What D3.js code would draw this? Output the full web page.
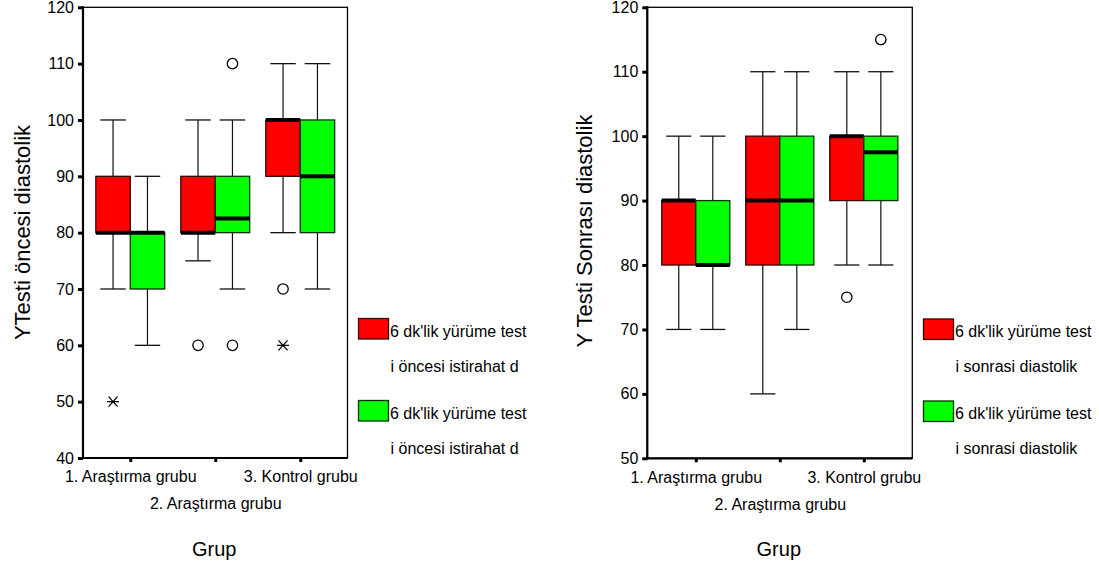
<!DOCTYPE html>
<html>
<head>
<meta charset="utf-8">
<script src="https://cdn.jsdelivr.net/npm/d3@7"></script>
<style>
  html, body { margin: 0; padding: 0; background: #fff; }
  svg { display: block; }
  text { font-family: "Liberation Sans", Arial, sans-serif; fill: #000; }
</style>
</head>
<body>
<svg id="chart" width="1099" height="575"></svg>
<script>
// ---------------- DATA ----------------
const groups = ["1. Araştırma grubu", "2. Araştırma grubu", "3. Kontrol grubu"];
const xTitle = "Grup";

// Left panel: 6 dk'lik yürüme testi öncesi (five-number summaries: min, q1, median, q3, max)
const leftTitle = "YTesti öncesi diastolik";
const leftTicks = [40, 50, 60, 70, 80, 90, 100, 110, 120];
const preRedBox = [[70, 80, 80, 90, 100], [75, 80, 80, 90, 100], [80, 90, 100, 100, 110]];
const preRedOutliers = [[], [60], [70]];
const preRedExtremes = [[50], [], [60]];
const preGreenBox = [[60, 70, 80, 80, 90], [70, 80, 82.5, 90, 100], [70, 80, 90, 100, 110]];
const preGreenOutliers = [[], [60, 110], []];
const preGreenExtremes = [[], [], []];
const leftLegend = ["6 dk'lik yürüme test", "i öncesi istirahat d", "6 dk'lik yürüme test", "i öncesi istirahat d"];

// Right panel: 6 dk'lik yürüme testi sonrası
const rightTitle = "Y Testi Sonrası diastolik";
const rightTicks = [50, 60, 70, 80, 90, 100, 110, 120];
const postRedBox = [[70, 80, 90, 90, 100], [60, 80, 90, 100, 110], [80, 90, 100, 100, 110]];
const postRedOutliers = [[], [], [75]];
const postRedExtremes = [[], [], []];
const postGreenBox = [[70, 80, 80, 90, 100], [70, 80, 90, 100, 110], [80, 90, 97.5, 100, 110]];
const postGreenOutliers = [[], [], [115]];
const postGreenExtremes = [[], [], []];
const rightLegend = ["6 dk'lik yürüme test", "i sonrasi diastolik", "6 dk'lik yürüme test", "i sonrasi diastolik"];

const seriesColors = ["#ff0000", "#00ff00"];
const seriesStrokes = ["#3a0000", "#003300"];

// ---------------- DRAWING ----------------
const svg = d3.select("#chart");

function drawPanel(cfg) {
  const g = svg.append("g");
  const x = d3.scalePoint().domain(groups).range([cfg.x0, cfg.x1]).padding(cfg.pad);
  const y = d3.scaleLinear().domain(cfg.yDomain).range([cfg.y1, cfg.y0]);
  const step = x.step();
  const boxW = step * 0.405;
  const capW = boxW * 0.74;

  // frame
  g.append("rect").attr("x", cfg.x0).attr("y", cfg.y0)
    .attr("width", cfg.x1 - cfg.x0).attr("height", cfg.y1 - cfg.y0)
    .attr("fill", "none").attr("stroke", "#000").attr("stroke-width", 1.3);

  // boxes
  cfg.series.forEach((s, si) => {
    groups.forEach((grp, gi) => {
      const [mn, q1, md, q3, mx] = s.box[gi];
      const left = x(grp) + (si === 0 ? -boxW : 0);
      const cx = left + boxW / 2;
      const bg = g.append("g");
      // whiskers
      bg.append("line").attr("x1", cx).attr("x2", cx).attr("y1", y(q3)).attr("y2", y(mx))
        .attr("stroke", "#111").attr("stroke-width", 1.2);
      bg.append("line").attr("x1", cx).attr("x2", cx).attr("y1", y(q1)).attr("y2", y(mn))
        .attr("stroke", "#111").attr("stroke-width", 1.2);
      bg.append("line").attr("x1", cx - capW / 2).attr("x2", cx + capW / 2).attr("y1", y(mx)).attr("y2", y(mx))
        .attr("stroke", "#111").attr("stroke-width", 1.3);
      bg.append("line").attr("x1", cx - capW / 2).attr("x2", cx + capW / 2).attr("y1", y(mn)).attr("y2", y(mn))
        .attr("stroke", "#111").attr("stroke-width", 1.3);
      // box
      bg.append("rect").attr("x", left).attr("y", y(q3)).attr("width", boxW).attr("height", y(q1) - y(q3))
        .attr("fill", seriesColors[si]).attr("stroke", seriesStrokes[si]).attr("stroke-width", 1.3);
      // median
      bg.append("line").attr("x1", left).attr("x2", left + boxW).attr("y1", y(md)).attr("y2", y(md))
        .attr("stroke", "#000").attr("stroke-width", 4);
      // outliers
      s.outliers[gi].forEach(v => {
        bg.append("circle").attr("cx", cx).attr("cy", y(v)).attr("r", 5.2)
          .attr("fill", "#fff").attr("stroke", "#000").attr("stroke-width", 1.3);
      });
      // extremes (asterisk)
      s.extremes[gi].forEach(v => {
        const py = y(v);
        const p = d3.path();
        p.moveTo(cx - 6, py); p.lineTo(cx + 6, py);
        p.moveTo(cx - 4.5, py - 5); p.lineTo(cx + 4.5, py + 5);
        p.moveTo(cx - 4.5, py + 5); p.lineTo(cx + 4.5, py - 5);
        bg.append("path").attr("d", p.toString()).attr("stroke", "#000").attr("stroke-width", 1.3).attr("fill", "none");
      });
    });
  });

  // y axis
  const ya = g.append("g").attr("transform", `translate(${cfg.x0},0)`)
    .call(d3.axisLeft(y).tickValues(cfg.ticks).tickSize(5).tickPadding(4).tickFormat(d3.format("d")));
  ya.select(".domain").remove();
  ya.selectAll(".tick line").attr("stroke", "#000").attr("stroke-width", 3);
  ya.selectAll(".tick text").attr("font-size", 16).attr("font-family", "Liberation Sans, Arial, sans-serif");

  // x axis
  const xa = g.append("g").attr("transform", `translate(0,${cfg.y1})`)
    .call(d3.axisBottom(x).tickSize(4).tickPadding(9));
  xa.select(".domain").remove();
  xa.selectAll(".tick line").attr("stroke", "#000").attr("stroke-width", 3);
  xa.selectAll(".tick text").attr("font-size", 16).attr("font-family", "Liberation Sans, Arial, sans-serif")
    .attr("y", (d, i) => i === 1 ? 40 : 13).attr("dy", "0.71em");

  // axis lines (thicker)
  g.append("line").attr("x1", cfg.x0).attr("x2", cfg.x0).attr("y1", cfg.y0 - 1).attr("y2", cfg.y1 + 1)
    .attr("stroke", "#000").attr("stroke-width", 2.2);
  g.append("line").attr("x1", cfg.x0 - 1).attr("x2", cfg.x1).attr("y1", cfg.y1).attr("y2", cfg.y1)
    .attr("stroke", "#000").attr("stroke-width", 2.2);

  // titles
  g.append("text").attr("transform", `translate(${cfg.titleX},${cfg.titleY}) rotate(-90)`)
    .attr("text-anchor", "middle").attr("font-size", 22).text(cfg.title);
  g.append("text").attr("x", (x(groups[0]) + x(groups[2])) / 2 - 1).attr("y", 556)
    .attr("text-anchor", "middle").attr("font-size", 20).text(xTitle);

  // legend
  const lg = g.append("g");
  [0, 1].forEach(si => {
    const top = cfg.legY + si * 82;
    lg.append("rect").attr("x", cfg.legX).attr("y", top).attr("width", 30).attr("height", 20.5)
      .attr("fill", seriesColors[si]).attr("stroke", seriesStrokes[si]).attr("stroke-width", 1.3);
    lg.append("text").attr("x", cfg.legX + 31.5).attr("y", top + 18).attr("font-size", 16).text(cfg.legend[si * 2]);
    lg.append("text").attr("x", cfg.legX + 32).attr("y", top + 53).attr("font-size", 16).text(cfg.legend[si * 2 + 1]);
  });
}

drawPanel({
  x0: 83, x1: 347.5, y0: 7.3, y1: 458, pad: 0.556,
  yDomain: [40, 120], ticks: leftTicks,
  series: [
    { box: preRedBox, outliers: preRedOutliers, extremes: preRedExtremes },
    { box: preGreenBox, outliers: preGreenOutliers, extremes: preGreenExtremes }
  ],
  title: leftTitle, titleX: 29.5, titleY: 232.5,
  legend: leftLegend, legX: 358.5, legY: 318.5
});

drawPanel({
  x0: 647.3, x1: 912.3, y0: 7.3, y1: 458.3, pad: 0.577,
  yDomain: [50, 120], ticks: rightTicks,
  series: [
    { box: postRedBox, outliers: postRedOutliers, extremes: postRedExtremes },
    { box: postGreenBox, outliers: postGreenOutliers, extremes: postGreenExtremes }
  ],
  title: rightTitle, titleX: 591.5, titleY: 231,
  legend: rightLegend, legX: 923.5, legY: 319
});
</script>
</body>
</html>
